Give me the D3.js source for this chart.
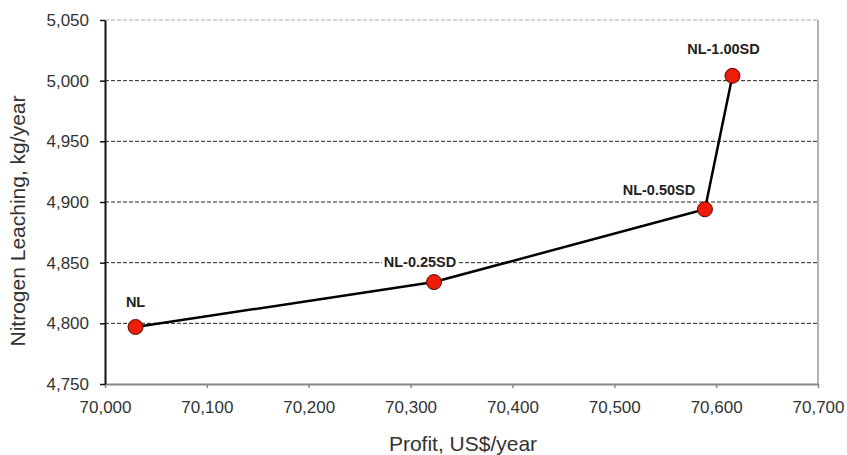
<!DOCTYPE html>
<html>
<head>
<meta charset="utf-8">
<script src="https://cdn.jsdelivr.net/npm/d3@7"></script>
<style>
  body { margin: 0; background: #fff; }
  svg { font-family: "Liberation Sans", Arial, sans-serif; }
</style>
</head>
<body>
<div id="chart"></div>
<script>
// data
const labels = ["NL", "NL-0.25SD", "NL-0.50SD", "NL-1.00SD"];
const profit = [70030, 70323, 70589, 70616];
const leaching = [4797, 4834, 4894, 5004];
const xTicks = [70000, 70100, 70200, 70300, 70400, 70500, 70600, 70700];
const yTicks = [4750, 4800, 4850, 4900, 4950, 5000, 5050];

const W = 847, H = 455;
const margin = { top: 20, right: 29, bottom: 71, left: 105 };
const width = W - margin.left - margin.right;
const height = H - margin.top - margin.bottom;

const svg = d3.select("#chart").append("svg")
  .attr("width", W)
  .attr("height", H);

const g = svg.append("g").attr("transform", `translate(${margin.left},${margin.top})`);

const x = d3.scaleLinear().domain([70000, 70700]).range([0, width]);
const y = d3.scaleLinear().domain([4750, 5050]).range([height, 0]);
const fmt = d3.format(",");

// gridlines
g.selectAll(".grid").data(yTicks.slice(1, -1)).join("line")
  .attr("x1", 0).attr("x2", width)
  .attr("y1", d => y(d)).attr("y2", d => y(d))
  .attr("stroke", "#222").attr("stroke-width", 1)
  .attr("stroke-dasharray", "4,2");

// frame top / right
g.append("line").attr("x1", 0).attr("x2", width).attr("y1", 0).attr("y2", 0)
  .attr("stroke", "#aaa").attr("stroke-width", 1).attr("stroke-dasharray", "4,2");
g.append("line").attr("x1", width).attr("x2", width).attr("y1", 0).attr("y2", height)
  .attr("stroke", "#999").attr("stroke-width", 1.5);

// x axis
const xAxis = g.append("g").attr("transform", `translate(0,${height})`)
  .call(d3.axisBottom(x).tickValues(xTicks).tickFormat(fmt).tickSizeInner(4).tickSizeOuter(0).tickPadding(13));
xAxis.select(".domain").attr("stroke", "#888").attr("stroke-width", 2);
xAxis.selectAll(".tick line").attr("stroke", "#888").attr("stroke-width", 1.5);
xAxis.selectAll("text").attr("font-size", 17).attr("fill", "#333")
  .attr("font-family", "Liberation Sans, Arial, sans-serif");

// y axis
const yAxis = g.append("g")
  .call(d3.axisLeft(y).tickValues(yTicks).tickFormat(fmt).tickSizeInner(5).tickSizeOuter(0).tickPadding(11));
yAxis.select(".domain").attr("stroke", "#111").attr("stroke-width", 2);
yAxis.selectAll(".tick line").attr("stroke", "#111").attr("stroke-width", 1.5);
yAxis.selectAll("text").attr("font-size", 17).attr("fill", "#333")
  .attr("font-family", "Liberation Sans, Arial, sans-serif");

// line
const pts = labels.map((l, i) => ({ label: l, x: profit[i], y: leaching[i] }));
g.append("path").datum(pts)
  .attr("fill", "none").attr("stroke", "#000").attr("stroke-width", 2.5)
  .attr("d", d3.line().x(d => x(d.x)).y(d => y(d.y)));

g.selectAll(".pt").data(pts).join("circle")
  .attr("cx", d => x(d.x)).attr("cy", d => y(d.y)).attr("r", 7.5)
  .attr("fill", "#ee1c0a").attr("stroke", "#5a0a00").attr("stroke-width", 1);

// point labels
const offs = [[0, -25], [-14, -20], [-46, -19], [-9, -27]];
const lab = g.selectAll(".lab").data(pts).join("g")
  .attr("transform", (d, i) => `translate(${x(d.x) + offs[i][0]},${y(d.y) + offs[i][1]})`);
lab.append("text")
  .attr("text-anchor", "middle").attr("dy", "0.35em")
  .attr("font-size", 14.5).attr("font-weight", "bold").attr("fill", "#222")
  .text(d => d.label);
lab.insert("rect", "text").each(function () {
  const b = this.parentNode.querySelector("text").getBBox();
  d3.select(this).attr("x", b.x - 2).attr("y", b.y + 1).attr("width", b.width + 4).attr("height", b.height - 2).attr("fill", "#fff");
});

// axis titles
svg.append("text")
  .attr("x", 463).attr("y", 451)
  .attr("text-anchor", "middle").attr("font-size", 21).attr("fill", "#333")
  .text("Profit, US$/year");
svg.append("text")
  .attr("transform", `translate(25,221) rotate(-90)`)
  .attr("text-anchor", "middle").attr("font-size", 21).attr("fill", "#333")
  .text("Nitrogen Leaching, kg/year");
</script>
</body>
</html>
